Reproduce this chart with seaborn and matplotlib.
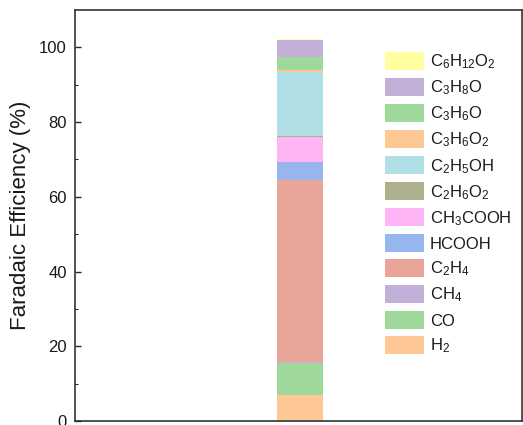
import matplotlib
matplotlib.use("Agg")
import matplotlib.pyplot as plt
from matplotlib.patches import Patch
import seaborn as sns
import pandas as pd

# Products, listed top of the stack first (same order as the legend)
products = ["C6H12O2", "C3H8O", "C3H6O", "C3H6O2", "C2H5OH", "C2H6O2",
            "CH3COOH", "HCOOH", "C2H4", "CH4", "CO", "H2"]
labels = [r"C$_6$H$_{12}$O$_2$", r"C$_3$H$_8$O", r"C$_3$H$_6$O", r"C$_3$H$_6$O$_2$",
          r"C$_2$H$_5$OH", r"C$_2$H$_6$O$_2$", r"CH$_3$COOH", "HCOOH",
          r"C$_2$H$_4$", r"CH$_4$", "CO", r"H$_2$"]
fe_values = [0.3, 4.5, 3.4, 0.7, 17.1, 0.2, 6.7, 4.9, 48.5, 0.3, 8.6, 7.0]
colors = ["#FFFFA0", "#C2B0D8", "#9ED89A", "#FDC894", "#B0E0E6", "#AFB08E",
          "#FDB5F5", "#98B6EE", "#E8A598", "#C2B0D8", "#9ED89A", "#FDC894"]

df = pd.DataFrame({"sample": [0] * len(products), "product": products, "fe": fe_values})
palette = dict(zip(products, colors))

sns.set_style("ticks")
plt.rcParams["font.family"] = ["Liberation Sans", "DejaVu Sans"]
plt.rcParams["mathtext.fontset"] = "custom"
plt.rcParams["mathtext.rm"] = "Liberation Sans"
plt.rcParams["mathtext.it"] = "Liberation Sans"
plt.rcParams["text.color"] = "#1a1a1a"

fig = plt.figure(figsize=(5.23, 4.25), dpi=100)
ax = fig.add_axes([75 / 523, 4 / 425, 447 / 523, 411 / 425])

sns.histplot(data=df, x="sample", weights="fe", hue="product", hue_order=products,
             palette=palette, multiple="stack", discrete=True, shrink=0.5,
             alpha=1, linewidth=0, legend=False, ax=ax)

ax.set_xlim(-2.45, 2.41)
ax.set_ylim(0, 110)
ax.set_yticks([0, 20, 40, 60, 80, 100])
ax.set_yticks([10, 30, 50, 70, 90], minor=True)
ax.set_xticks([])
ax.set_xlabel("")
ax.set_ylabel("Faradaic Efficiency (%)", fontsize=16, color="#1a1a1a", labelpad=6)
ax.tick_params(axis="y", which="major", direction="in", length=4, width=1,
               labelsize=12, labelcolor="#1a1a1a", pad=6)
ax.tick_params(axis="y", which="minor", direction="in", length=2.5, width=0.8)
for side in ["left", "right", "top", "bottom"]:
    ax.spines[side].set_visible(True)
    ax.spines[side].set_linewidth(1.2)
    ax.spines[side].set_color("#333333")

handles = [Patch(facecolor=palette[p], edgecolor="none") for p in products]
ax.legend(handles, labels, loc="upper left", bbox_to_anchor=(0.678, 0.914),
          frameon=False, fontsize=12, handlelength=2.35, handleheight=1.3,
          handletextpad=0.36, labelspacing=0.4, borderaxespad=0)

fig.savefig("out.png", dpi=100)
